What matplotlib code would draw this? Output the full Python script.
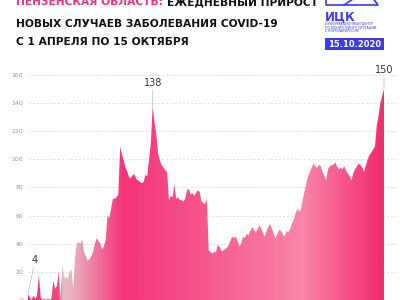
import numpy as np
import matplotlib
matplotlib.use('Agg')
import matplotlib.pyplot as plt
from matplotlib.colors import LinearSegmentedColormap
from matplotlib.lines import Line2D
from matplotlib.patches import Rectangle

# Penza region, daily new COVID-19 cases, 1 Apr - 15 Oct 2020
new_cases = [
    4, 2, 0, 3, 1, 3, 18, 2, 0, 1,
    0, 1, 0, 1, 14, 8, 10, 20, 1, 24,
    16, 16, 15, 20, 22, 8, 30, 40, 41, 40,
    43, 34, 31, 28, 29, 31, 34, 40, 44, 42,
    40, 36, 38, 43, 60, 58, 65, 72, 72, 73,
    75, 109, 103, 99, 94, 91, 87, 87, 89, 89,
    86, 85, 84, 83, 84, 89, 88, 100, 112, 138,
    126, 118, 104, 99, 96, 94, 92, 91, 71, 74,
    73, 82, 72, 73, 71, 71, 70, 72, 78, 79,
    75, 76, 74, 76, 78, 77, 70, 69, 68, 72,
    35, 34, 33, 34, 34, 39, 38, 35, 35, 36,
    37, 39, 42, 45, 44, 45, 42, 38, 40, 45,
    44, 47, 46, 49, 52, 50, 48, 50, 53, 51,
    48, 45, 49, 52, 54, 51, 47, 44, 47, 50,
    49, 47, 45, 49, 48, 50, 54, 57, 61, 65,
    63, 64, 71, 77, 83, 88, 91, 94, 97, 95,
    94, 96, 95, 91, 88, 85, 93, 95, 96, 96,
    98, 95, 93, 94, 93, 95, 92, 90, 88, 85,
    90, 93, 95, 97, 96, 94, 91, 96, 100, 103,
    105, 107, 109, 124, 131, 140, 145, 150,
]
y_ticks = [0, 20, 40, 60, 80, 100, 120, 140, 160]
labelled_days = [0, 69, 197]

title_pink = 'ПЕНЗЕНСКАЯ ОБЛАСТЬ:'
title_rest = 'ЕЖЕДНЕВНЫЙ ПРИРОСТ'
title_line2 = 'НОВЫХ СЛУЧАЕВ ЗАБОЛЕВАНИЯ COVID-19'
title_line3 = 'С 1 АПРЕЛЯ ПО 15 ОКТЯБРЯ'
report_date = '15.10.2020'

pink = '#f2317a'
blue = '#3b3bf0'
days = np.arange(len(new_cases))

# gradient along x (fraction of data range -> colour)
grad_stops = [
    (0.0, '#f0307a'), (0.084, '#f04a80'), (0.096, '#e6bcc6'),
    (0.132, '#e9aabb'), (0.202, '#f06a98'), (0.267, '#f5337a'),
    (0.483, '#f5558b'), (0.772, '#f985ab'), (0.975, '#f23474'),
    (1.0, '#f03070'),
]
cmap = LinearSegmentedColormap.from_list('pinks', grad_stops)


def fx(px):
    return px / 400


def fy(py):
    return 1 - py / 300


fig = plt.figure(figsize=(4, 3), dpi=100)
ax = fig.add_axes([fx(28), 0, (397 - 28) / 400, 240 / 300])

poly = ax.fill_between(days, new_cases, 0, color='none', lw=0)
grad = np.linspace(0, 1, 400).reshape(1, -1)
im = ax.imshow(grad, aspect='auto', cmap=cmap, origin='lower',
               extent=[0, len(days) - 1, 0, 175], zorder=2,
               interpolation='bilinear')
im.set_clip_path(poly.get_paths()[0], transform=ax.transData)

ax.set_xlim(0, (len(days) - 1) * 369 / 356)
ax.set_ylim(0.9, 170.6)
ax.set_yticks(y_ticks)
ax.set_xticks([])
ax.yaxis.grid(True, ls=(0, (3, 2)), color='#dddddd', lw=0.6)
ax.set_axisbelow(True)
for s in ax.spines.values():
    s.set_visible(False)
ax.tick_params(axis='y', length=0, pad=3.5, labelsize=4.5,
               labelcolor='#999999')

# value labels
offsets = {0: (3.9, 25), 69: (69, 151), 197: (197, 160)}
for d in labelled_days:
    tx, ty = offsets[d]
    ax.annotate(str(new_cases[d]), xy=(d, new_cases[d]), xytext=(tx, ty),
                ha='center', va='bottom', fontsize=7, color='#333333',
                arrowprops=dict(arrowstyle='-', color='#bbbbbb', lw=0.5,
                                shrinkA=0, shrinkB=0),
                zorder=5)

# title (font size fitted to roughly the width of the second line)
tfont = dict(family='DejaVu Sans', fontweight='bold', fontsize=12,
             va='baseline')
t1a = fig.text(fx(16), fy(5), title_pink, color=pink, **tfont)
t1b = fig.text(fx(151), fy(5), title_rest, color='#111111', **tfont)
t2 = fig.text(fx(16), fy(27), title_line2, color='#111111', **tfont)
t3 = fig.text(fx(16), fy(45), title_line3, color='#111111', **tfont)
renderer = fig.canvas.get_renderer()
fs = 12 * 1.1 * 236 / t2.get_window_extent(renderer).width
for t in (t1a, t1b, t2, t3):
    t.set_fontsize(fs)
pink_end = t1a.get_window_extent(renderer).x1
t1b.set_x((pink_end + 4) / fig.bbox.width)

# logo
tf = fig.transFigure
fig.add_artist(Line2D([fx(326), fx(326), fx(378), fx(372)],
                      [fy(-3), fy(5), fy(5), fy(-3)],
                      color=blue, lw=1.2, transform=tf))
fig.add_artist(Line2D([fx(344), fx(356)], [fy(5), fy(-3)],
                      color=blue, lw=1.2, transform=tf))
fig.text(fx(325), fy(20.5), 'ИЦК', color=blue, fontsize=8.5,
         fontweight='bold', va='baseline')
for i, line in enumerate(['ИНФОРМАЦИОННЫЙ ЦЕНТР',
                          'ПО МОНИТОРИНГУ СИТУАЦИИ',
                          'С КОРОНАВИРУСОМ']):
    fig.text(fx(325), fy(25.5 + i * 3.3), line, color=blue, fontsize=2.3,
             va='baseline')
fig.add_artist(Rectangle((fx(325), fy(50)), (384 - 325) / 400, 12 / 300,
                         facecolor=blue, edgecolor='none', transform=tf))
fig.text(fx(354.5), fy(44), report_date, color='white', fontsize=6,
         fontweight='bold', ha='center', va='center')

fig.savefig('out.png', dpi=100)
